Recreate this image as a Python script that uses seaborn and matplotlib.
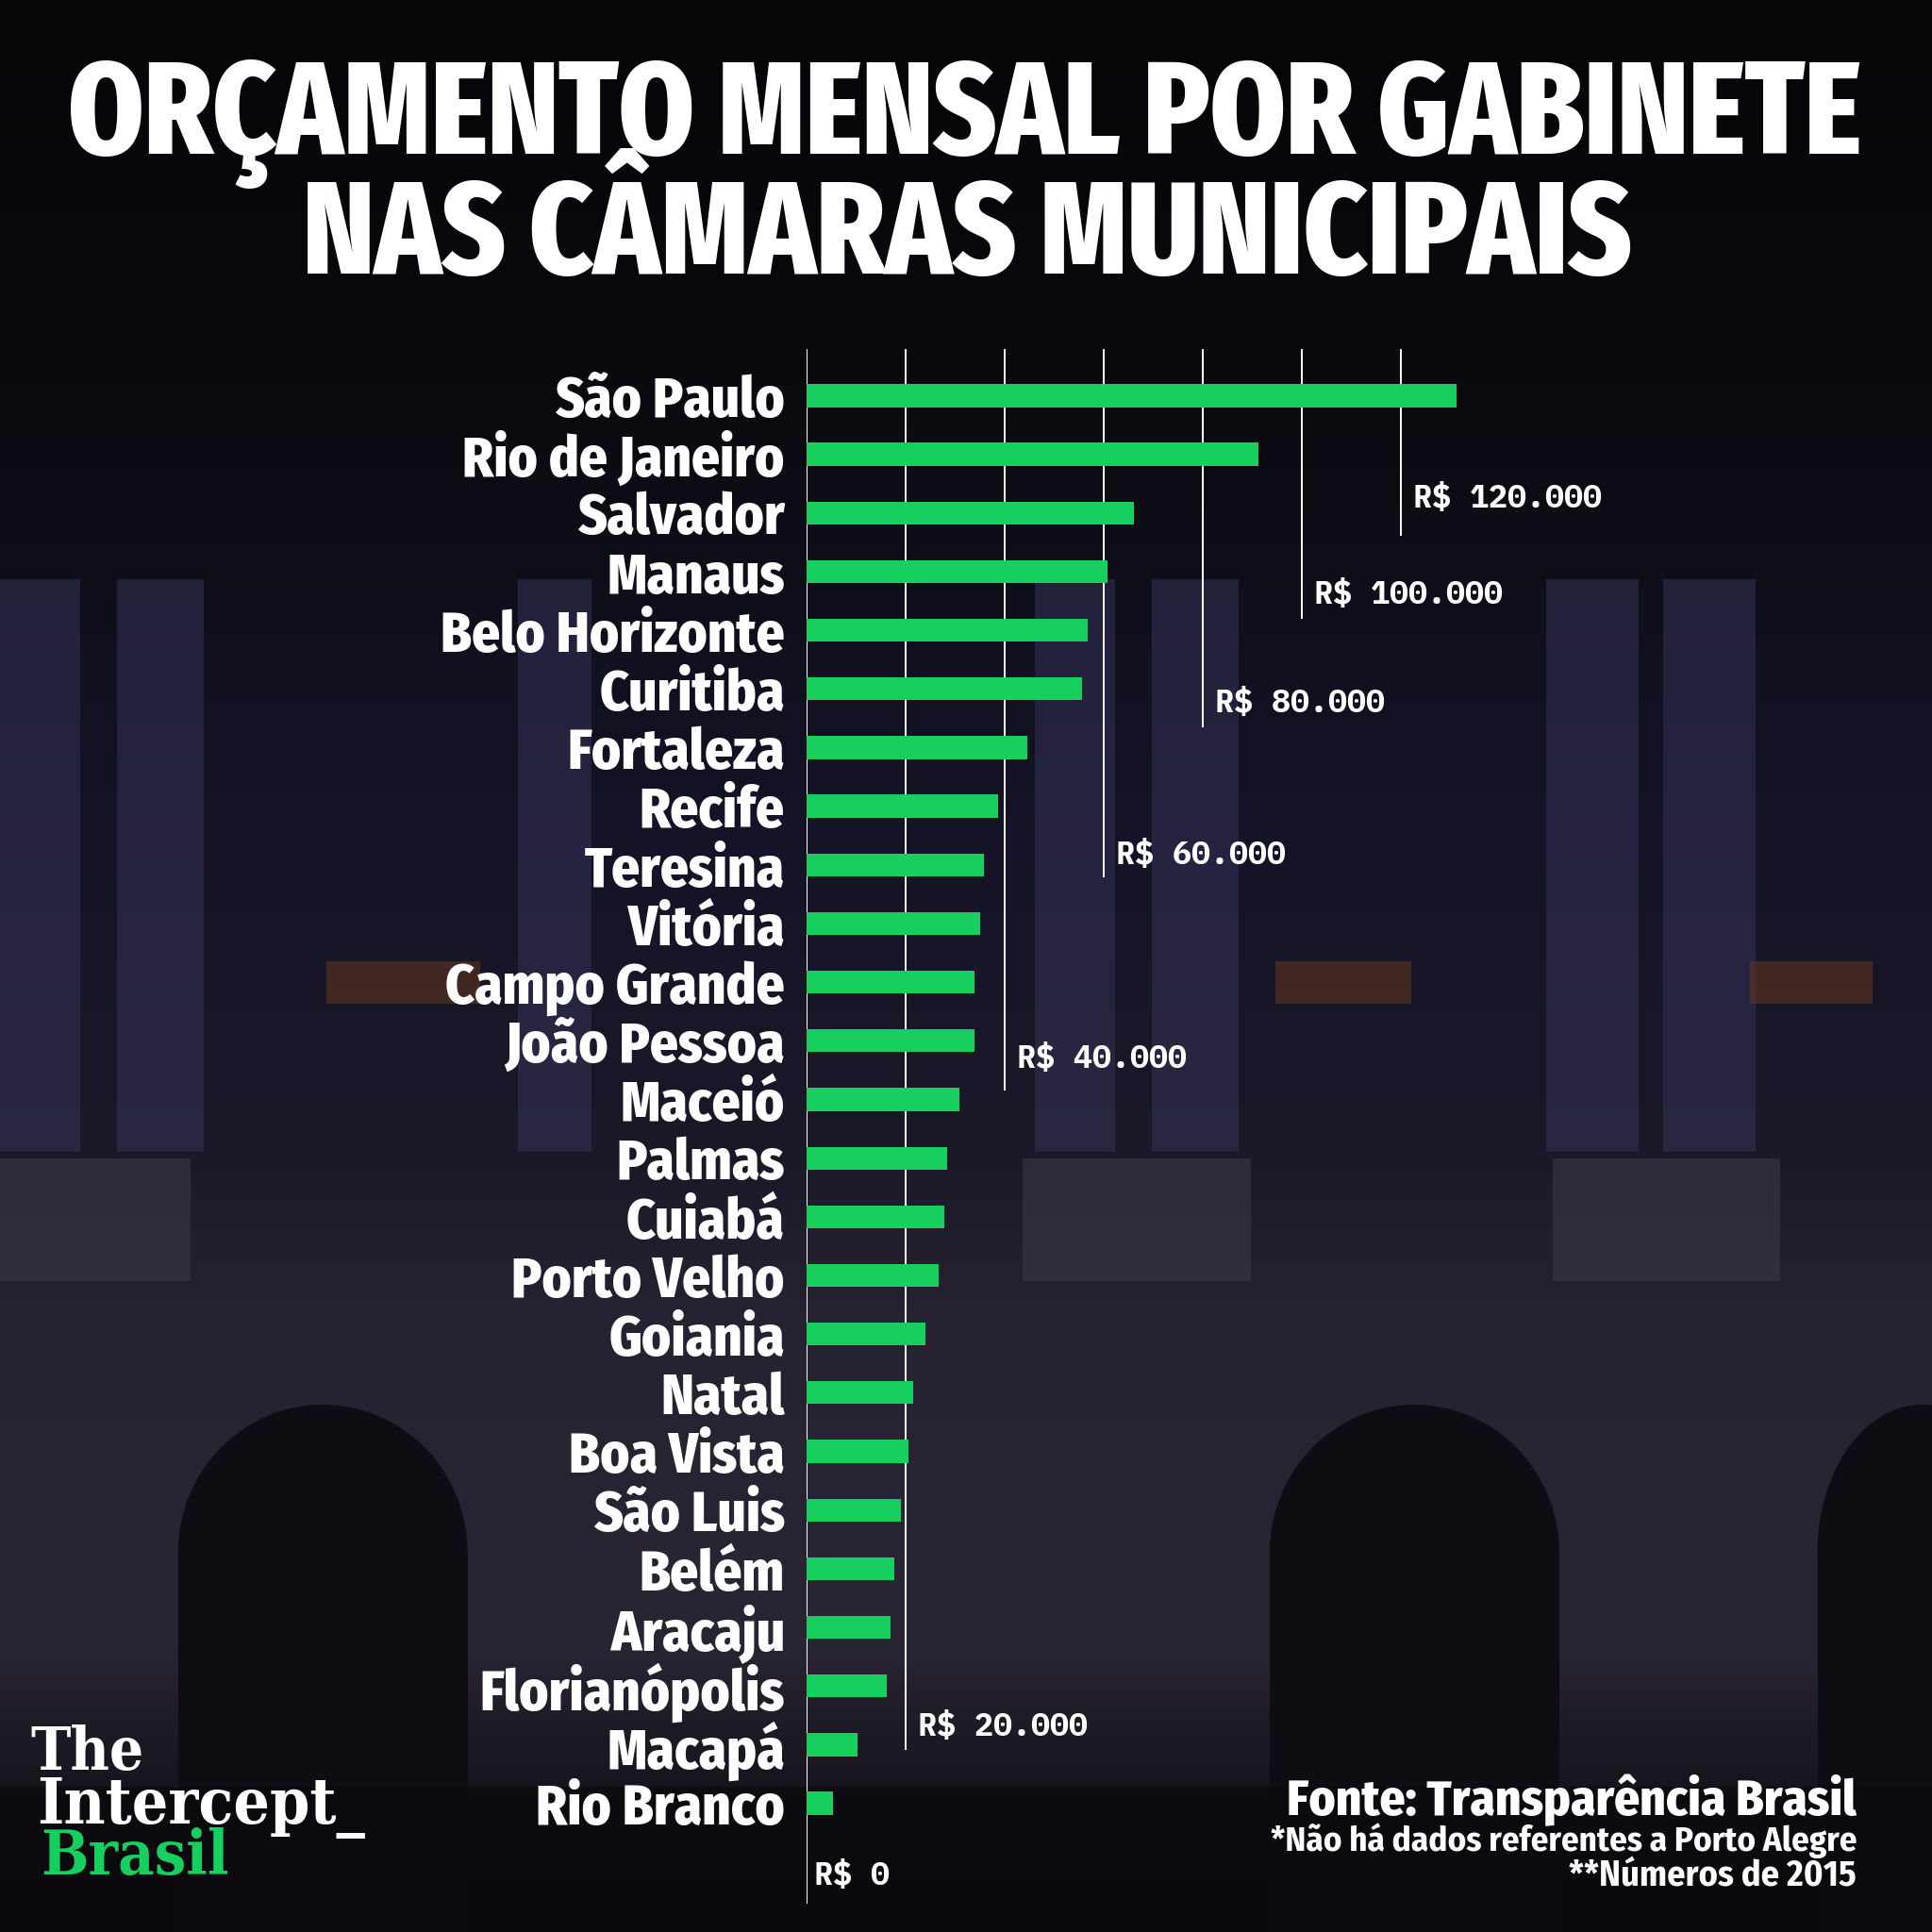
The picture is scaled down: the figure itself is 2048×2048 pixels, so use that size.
import numpy as np
import pandas as pd
import seaborn as sns
import matplotlib.pyplot as plt
from matplotlib.colors import LinearSegmentedColormap
from matplotlib.patches import Rectangle, Ellipse

cidades = ["São Paulo", "Rio de Janeiro", "Salvador", "Manaus", "Belo Horizonte",
           "Curitiba", "Fortaleza", "Recife", "Teresina", "Vitória",
           "Campo Grande", "João Pessoa", "Maceió", "Palmas", "Cuiabá",
           "Porto Velho", "Goiania", "Natal", "Boa Vista", "São Luis",
           "Belém", "Aracaju", "Florianópolis", "Macapá", "Rio Branco"]
orcamento = [131200, 91300, 66000, 60700, 56800,
             55600, 44500, 38700, 35700, 35000,
             33800, 33800, 30900, 28400, 27800,
             26600, 24000, 21400, 20500, 18900,
             17700, 16900, 16100, 10200, 5200]
marcas = [0, 20000, 40000, 60000, 80000, 100000, 120000]

df = pd.DataFrame({"cidade": cidades, "valor": orcamento})

verde = "#17cf5f"
sns.set_theme(style="white")
cond = ["Fira Sans Condensed", "DejaVu Sans"]
titulo_fonte = ["Fira Sans Extra Condensed", "Fira Sans Condensed", "DejaVu Sans"]
mono = ["IBM Plex Mono", "DejaVu Sans Mono"]
serif = ["DejaVu Serif", "Liberation Serif"]
plt.rcParams["font.family"] = cond

W = 2048
fig = plt.figure(figsize=(20.48, 20.48), dpi=100)

# fundo escuro no lugar da foto do prédio
bg = fig.add_axes([0, 0, 1, 1], zorder=0)
cmap = LinearSegmentedColormap.from_list("fundo", [
    (0.0, "#060609"), (0.18, "#09090e"), (0.28, "#0e0e18"), (0.42, "#141327"),
    (0.6, "#1b1928"), (0.68, "#262231"), (0.85, "#2a2533"), (0.93, "#17141c"),
    (1.0, "#0a090d")])
grad = np.linspace(0, 1, 512).reshape(-1, 1)
bg.imshow(grad, aspect="auto", cmap=cmap, extent=[0, 1, 0, 1], zorder=0)
for x0, x1 in [(0, 65), (95, 165), (420, 480), (840, 905), (935, 1005), (1255, 1330), (1350, 1425)]:
    bg.add_patch(Rectangle((x0 / 1568, 1 - 935 / 1568), (x1 - x0) / 1568, 465 / 1568,
                           color="#36345a", alpha=0.5, lw=0, zorder=1))
for x0, x1 in [(0, 155), (830, 1015), (1260, 1445)]:
    bg.add_patch(Rectangle((x0 / 1568, 1 - 1040 / 1568), (x1 - x0) / 1568, 100 / 1568,
                           color="#3a3746", alpha=0.6, lw=0, zorder=1))
for x0, x1 in [(265, 390), (1035, 1145), (1420, 1520)]:
    bg.add_patch(Rectangle((x0 / 1568, 1 - 815 / 1568), (x1 - x0) / 1568, 35 / 1568,
                           color="#6b3a1c", alpha=0.5, lw=0, zorder=1))
for cx, w in [(262, 235), (1148, 235), (1560, 170)]:
    bg.add_patch(Ellipse((cx / 1568, 1 - 1260 / 1568), w / 1568, 240 / 1568,
                         color="#0f0d13", lw=0, zorder=2))
    bg.add_patch(Rectangle(((cx - w / 2) / 1568, 0), w / 1568, 1 - 1260 / 1568,
                           color="#0f0d13", lw=0, zorder=2))
bg.add_patch(Rectangle((0, 0), 1, 1 - 1450 / 1568, color="#0a090d", alpha=0.7, lw=0, zorder=3))
bg.set_xlim(0, 1)
bg.set_ylim(0, 1)
bg.axis("off")

ax = fig.add_axes([0.4177, 0.0147, 0.3585, 0.8048], zorder=1)
ax.set_facecolor("none")
sns.barplot(data=df, x="valor", y="cidade", orient="h", color=verde,
            width=0.39, saturation=1, linewidth=0, edgecolor="none", ax=ax, zorder=3)

ax.set_xlim(0, 140000)
ax.set_ylim(25.71, -0.80)

# linhas de grade com comprimentos escalonados
fim_linha = [25.71, 23.09, 11.85, 8.21, 5.65, 3.80, 2.39]
pos_rotulo = [25.25, 22.71, 11.32, 7.84, 5.25, 3.40, 1.76]
ax.vlines(marcas, ymin=-0.80, ymax=fim_linha, color="white", lw=1.4, zorder=1)
for m, y in zip(marcas, pos_rotulo):
    txt = "R$ {:,}".format(m).replace(",", ".")
    ax.text(m + (1500 if m == 0 else 2500), y, txt, color="white", fontsize=24,
            fontweight="bold", family=mono, va="center", ha="left")

ax.set_xlabel("")
ax.set_ylabel("")
ax.set_xticks([])
ax.tick_params(axis="y", length=0, pad=17, labelcolor="white")
for lab in ax.get_yticklabels():
    lab.set_fontsize(38)
    lab.set_fontweight(800)
    lab.set_family(cond)
sns.despine(ax=ax, left=True, bottom=True)

fig.canvas.draw()
ren = fig.canvas.get_renderer()

# mesma escala para todos os nomes, medida em "Belo Horizonte"
ref = [lab for lab in ax.get_yticklabels() if lab.get_text() == "Belo Horizonte"][0]
fator = (279 / 1568 * W) / ref.get_window_extent(ren).width
for lab in ax.get_yticklabels():
    lab.set_fontsize(38 * fator)


def ajusta(t, largura):
    # ajusta o tamanho para a largura medida na referência (px de 1568)
    alvo = largura / 1568 * W
    larg = t.get_window_extent(ren).width
    t.set_fontsize(t.get_fontsize() * alvo / larg)


t1 = fig.text(0.4994, 1 - 125 / 1568, "ORÇAMENTO MENSAL POR GABINETE", color="white",
              fontsize=80, fontweight=800, family=titulo_fonte, ha="center", va="baseline")
t2 = fig.text(0.5006, 1 - 222 / 1568, "NAS CÂMARAS MUNICIPAIS", color="white",
              fontsize=80, fontweight=800, family=titulo_fonte, ha="center", va="baseline")
ajusta(t1, 1457)
ajusta(t2, 1080)

f1 = fig.text(0.961, 1 - 1473 / 1568, "Fonte: Transparência Brasil", color="white",
              fontsize=36, fontweight=800, ha="right", va="baseline")
f2 = fig.text(0.961, 1 - 1502 / 1568, "*Não há dados referentes a Porto Alegre", color="white",
              fontsize=24, fontweight="bold", ha="right", va="baseline")
f3 = fig.text(0.961, 1 - 1530 / 1568, "**Números de 2015", color="white", fontsize=24,
              fontweight="bold", ha="right", va="baseline")
ajusta(f1, 462)
ajusta(f2, 475)
ajusta(f3, 233)

l1 = fig.text(25 / 1568, 1 - 1436 / 1568, "The", color="white", fontsize=44,
              fontweight="bold", family=serif, stretch="condensed", ha="left", va="baseline")
l2 = fig.text(30 / 1568, 1 - 1480 / 1568, "Intercept_", color="white", fontsize=44,
              fontweight="bold", family=serif, stretch="condensed", ha="left", va="baseline")
l3 = fig.text(33 / 1568, 1 - 1521 / 1568, "Brasil", color=verde, fontsize=44,
              fontweight="bold", family=serif, stretch="condensed", ha="left", va="baseline")
ajusta(l1, 92)
ajusta(l2, 266)
ajusta(l3, 153)

fig.savefig("out.png", dpi=100, facecolor="black")
